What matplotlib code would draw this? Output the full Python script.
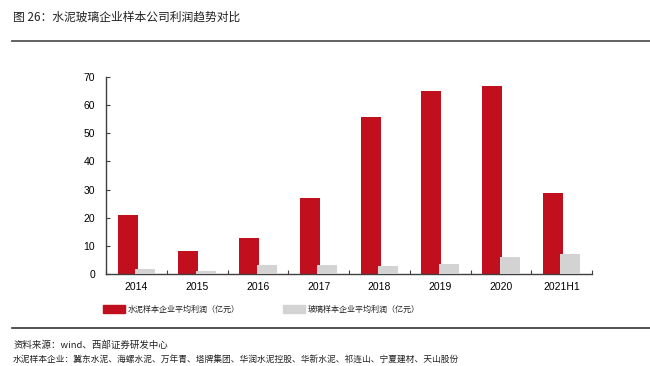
import matplotlib
matplotlib.use("Agg")
import matplotlib.pyplot as plt
import numpy as np

plt.rcParams['font.family'] = ['Noto Sans CJK SC', 'DejaVu Sans']

categories = ["2014", "2015", "2016", "2017", "2018", "2019", "2020", "2021H1"]
cement = [21.0, 8.2, 12.8, 27.0, 55.7, 64.9, 66.8, 28.9]
glass = [1.8, 1.2, 3.2, 3.2, 2.8, 3.6, 6.0, 7.0]
yticks = [0, 10, 20, 30, 40, 50, 60, 70]

title = "图 26：水泥玻璃企业样本公司利润趋势对比"
legend_labels = ["水泥样本企业平均利润（亿元）", "玻璃样本企业平均利润（亿元）"]
source = "资料来源：wind、西部证券研发中心"
note = "水泥样本企业：冀东水泥、海螺水泥、万年青、塔牌集团、华润水泥控股、华新水泥、祁连山、宁夏建材、天山股份"

red = "#C20F1E"
grey = "#D3D3D3"
axcol = "#404040"

fig = plt.figure(figsize=(6.5, 3.66), dpi=100)
ax = fig.add_axes([106/650, 1-274/366, (592-106)/650, (274-77)/366])

x = np.arange(len(categories))
w = 0.33
ax.bar(x - 0.143, cement, width=w, color=red, zorder=2)
ax.bar(x + 0.143, glass, width=w, color=grey, zorder=3)

ax.set_xlim(-0.5, len(categories) - 0.5)
ax.set_ylim(0, 70)
ax.set_yticks(yticks)
ax.set_yticklabels([str(v) for v in yticks], family=['Liberation Sans'], fontsize=7.5)
ax.set_xticks(x)
ax.set_xticklabels(categories, family=['Liberation Sans'], fontsize=7.5)
ax.set_xticks(np.arange(len(categories) + 1) - 0.5, minor=True)
ax.tick_params(axis='x', which='major', length=0, pad=6)
ax.tick_params(axis='x', which='minor', direction='in', length=3, width=0.8, color=axcol)
ax.tick_params(axis='y', direction='in', length=3, width=0.8, color=axcol, pad=8)
for s in ['top', 'right']:
    ax.spines[s].set_visible(False)
for s in ['left', 'bottom']:
    ax.spines[s].set_color(axcol)
    ax.spines[s].set_linewidth(1.0)

# title
fig.text(13/650, 1-17/366, title, fontsize=8.5, va='center', ha='left', color='#222222')
fig.add_artist(plt.Line2D([12/650, 1], [1-41/366, 1-41/366], color='#555555', lw=1.3))

# legend
ly = 1 - 309/366
fig.add_artist(plt.Rectangle((103/650, ly - 3.5/366), 22/650, 8/366, color=red, transform=fig.transFigure))
fig.text(128/650, ly, legend_labels[0], fontsize=5.8, va='center', ha='left', color='#222222')
fig.add_artist(plt.Rectangle((283/650, ly - 3.5/366), 22/650, 8/366, color=grey, transform=fig.transFigure))
fig.text(308/650, ly, legend_labels[1], fontsize=5.8, va='center', ha='left', color='#222222')

fig.add_artist(plt.Line2D([12/650, 1], [1-328/366, 1-328/366], color='#333333', lw=1.2))
fig.text(13/650, 1-345/366, source, fontsize=6.8, va='center', ha='left', color='#222222')
fig.text(13/650, 1-360/366, note, fontsize=6.3, va='center', ha='left', color='#222222')

fig.savefig("out.png", dpi=100)
